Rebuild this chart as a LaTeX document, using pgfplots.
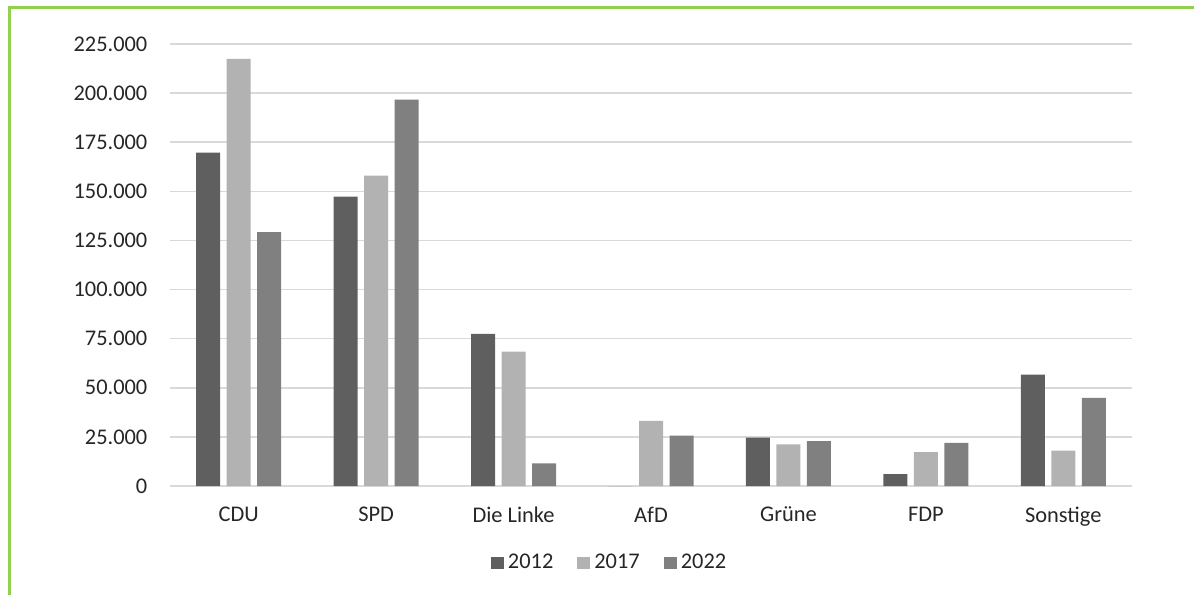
\documentclass[border=0pt]{standalone}
\usepackage{pgfplots}
\pgfplotsset{compat=1.18}
\usepackage{fontspec}
\setmainfont{Carlito}
\definecolor{cA}{HTML}{5F5F5F}
\definecolor{cB}{HTML}{B2B2B2}
\definecolor{cC}{HTML}{808080}
\definecolor{frame}{HTML}{92D050}
\definecolor{gridc}{HTML}{D9D9D9}
\definecolor{txt}{HTML}{262626}
\begin{document}
\begin{tikzpicture}
\path[use as bounding box] (0,0) rectangle (597pt,297.5pt);
\draw[frame, line width=1.6pt] (4.75pt,0) -- (4.75pt,293.75pt) -- (597pt,293.75pt);
\begin{axis}[
  at={(85pt,54.5pt)}, anchor=south west,
  scale only axis, width=481pt, height=221pt,
  font=\fontsize{11.2}{13}\selectfont, 
  xmin=-0.5, xmax=6.5, ymin=0, ymax=225000,
  ybar=3.25pt, bar width=12pt,
  xtick={0,...,6},
  xticklabels={CDU,SPD,Die Linke,AfD,Grüne,FDP,Sonstige},
  ytick={0,25000,...,225000},
  scaled y ticks=false,
  /pgf/number format/.cd, 1000 sep={.}, fixed, assume math mode=true, /pgfplots/.cd,
  ymajorgrids, grid style={gridc, line width=0.8pt},
  axis line style={draw=none}, major tick length=0,
  tick label style={txt},
  xticklabel style={yshift=-7pt},
  yticklabel style={xshift=-7.8pt},
  legend columns=-1,
  legend style={draw=none, at={(0.458,-0.174)}, anchor=center, font=\fontsize{11.2}{13}\selectfont, text=txt,
    /tikz/every even column/.append style={column sep=10pt}},
  legend image code/.code={\fill[#1] (0pt,-3pt) rectangle (6.5pt,3pt);},
]
\addplot[fill=cA, draw=none] coordinates {(0,169700) (1,147300) (2,77400) (3,0) (4,24600) (5,6000) (6,56700)};
\addplot[fill=cB, draw=none] coordinates {(0,217400) (1,158000) (2,68400) (3,33100) (4,21200) (5,17300) (6,18000)};
\addplot[fill=cC, draw=none] coordinates {(0,129200) (1,196700) (2,11500) (3,25600) (4,22900) (5,21900) (6,44800)};
\legend{2012,2017,2022}
\end{axis}
\end{tikzpicture}
\end{document}
